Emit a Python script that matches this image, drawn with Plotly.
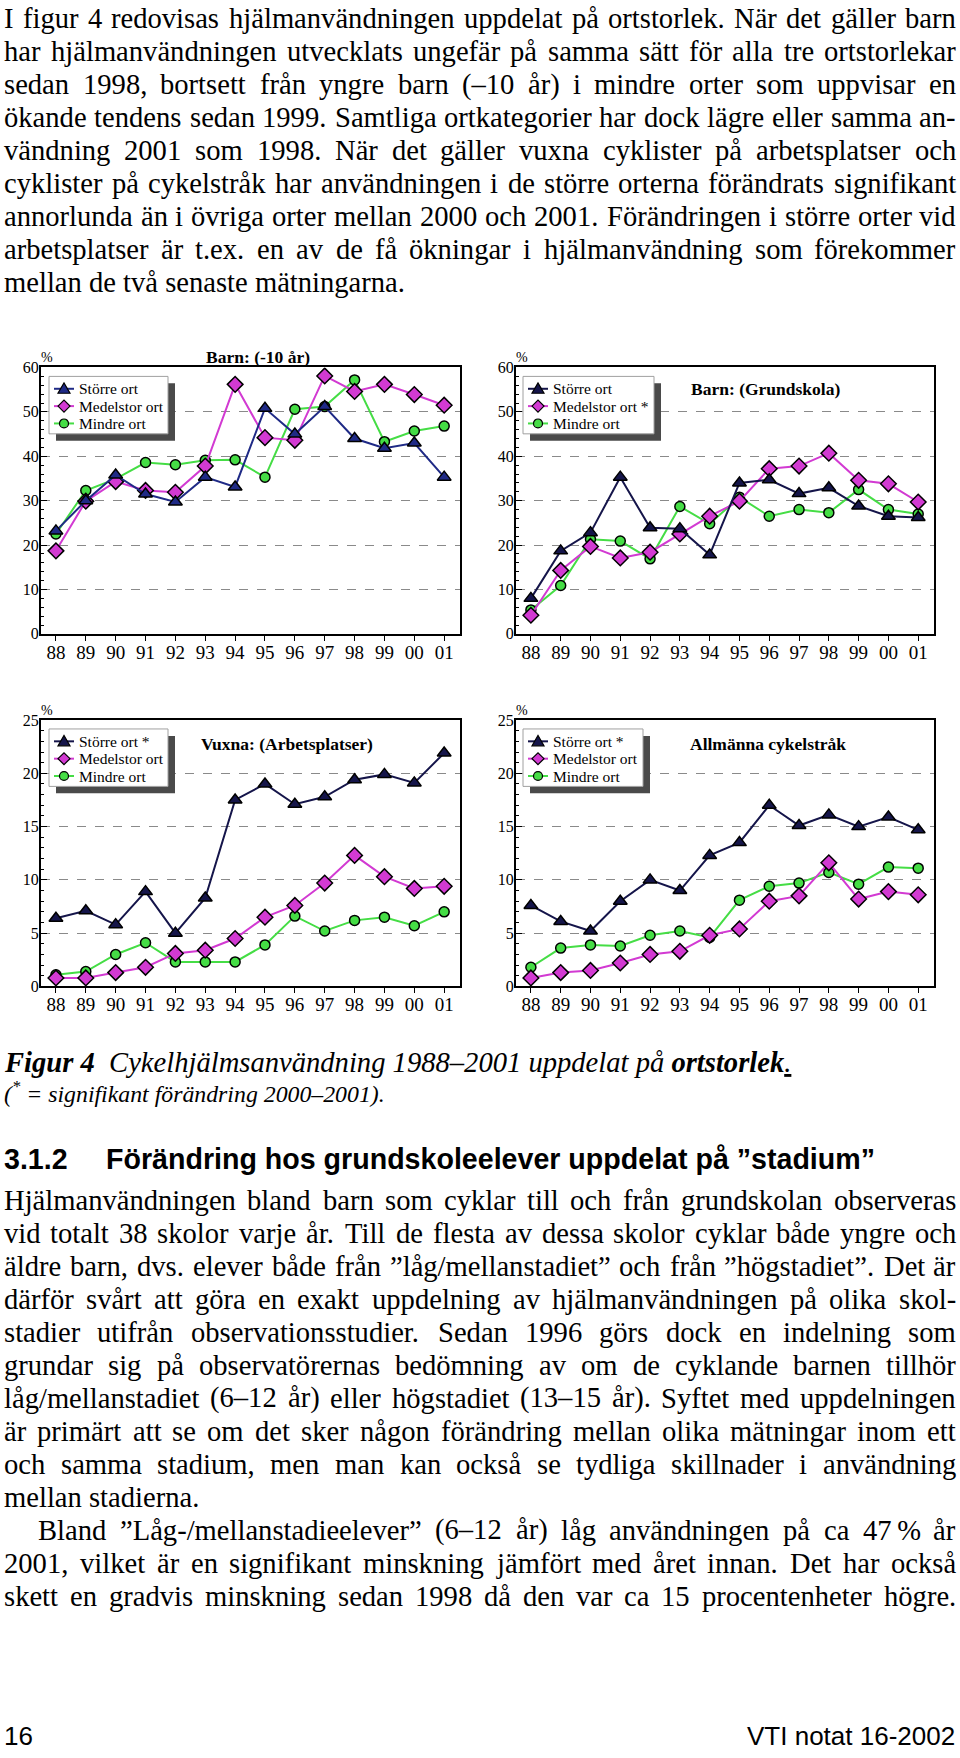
import plotly.graph_objects as go

# ---------------- data ----------------
years = ["88", "89", "90", "91", "92", "93", "94", "95", "96", "97", "98", "99", "00", "01"]

barn10_storre = [23.2, 30.0, 35.8, 31.5, 29.7, 35.3, 33.1, 50.8, 45.0, 51.2, 44.0, 41.8, 43.0, 35.3]
barn10_medel = [18.7, 29.9, 34.3, 32.3, 31.9, 37.8, 56.2, 44.2, 43.6, 58.1, 54.6, 56.2, 53.9, 51.5]
barn10_mindre = [22.5, 32.3, 34.9, 38.6, 38.1, 39.1, 39.2, 35.3, 50.6, 51.2, 57.2, 43.3, 45.7, 46.8]

grund_storre = [8.0, 18.7, 22.8, 35.3, 23.9, 23.7, 17.8, 34.0, 34.7, 31.6, 32.9, 28.8, 26.5, 26.2]
grund_medel = [4.2, 14.3, 19.7, 17.1, 18.4, 22.5, 26.5, 29.9, 37.2, 37.8, 40.7, 34.6, 33.8, 29.7]
grund_mindre = [5.4, 10.9, 21.3, 20.9, 16.9, 28.7, 24.8, 30.8, 26.5, 28.0, 27.3, 32.5, 28.0, 27.0]

vuxna_storre = [6.4, 7.1, 5.8, 8.9, 5.0, 8.3, 17.5, 19.0, 17.1, 17.8, 19.4, 19.9, 19.1, 21.9]
vuxna_medel = [0.8, 0.8, 1.3, 1.8, 3.1, 3.4, 4.5, 6.5, 7.6, 9.7, 12.3, 10.3, 9.2, 9.4]
vuxna_mindre = [1.1, 1.4, 3.0, 4.1, 2.3, 2.3, 2.3, 3.9, 6.6, 5.2, 6.2, 6.5, 5.7, 7.0]

cykel_storre = [7.6, 6.1, 5.2, 8.0, 10.0, 9.0, 12.3, 13.5, 17.0, 15.1, 16.1, 15.0, 15.9, 14.7]
cykel_medel = [0.8, 1.3, 1.5, 2.2, 3.0, 3.3, 4.8, 5.4, 8.0, 8.5, 11.6, 8.2, 8.9, 8.6]
cykel_mindre = [1.8, 3.6, 3.9, 3.8, 4.8, 5.2, 4.6, 8.1, 9.4, 9.7, 10.7, 9.6, 11.2, 11.1]

chart_titles = ["Barn: (-10 år)", "Barn: (Grundskola)", "Vuxna: (Arbetsplatser)", "Allmänna cykelstråk"]
legend_names = [
    ["Större ort", "Medelstor ort", "Mindre ort"],
    ["Större ort", "Medelstor ort *", "Mindre ort"],
    ["Större ort *", "Medelstor ort", "Mindre ort"],
    ["Större ort *", "Medelstor ort", "Mindre ort"],
]

para1 = [
    "I figur 4 redovisas hjälmanvändningen uppdelat på ortstorlek. När det gäller barn",
    "har hjälmanvändningen utvecklats ungefär på samma sätt för alla tre ortstorlekar",
    "sedan 1998, bortsett från yngre barn (–10 år) i mindre orter som uppvisar en",
    "ökande tendens sedan 1999. Samtliga ortkategorier har dock lägre eller samma an-",
    "vändning 2001 som 1998. När det gäller vuxna cyklister på arbetsplatser och",
    "cyklister på cykelstråk har användningen i de större orterna förändrats signifikant",
    "annorlunda än i övriga orter mellan 2000 och 2001. Förändringen i större orter vid",
    "arbetsplatser är t.ex. en av de få ökningar i hjälmanvändning som förekommer",
    "mellan de två senaste mätningarna.",
]
para2 = [
    "Hjälmanvändningen bland barn som cyklar till och från grundskolan observeras",
    "vid totalt 38 skolor varje år. Till de flesta av dessa skolor cyklar både yngre och",
    "äldre barn, dvs. elever både från ”låg/mellanstadiet” och från ”högstadiet”. Det är",
    "därför svårt att göra en exakt uppdelning av hjälmanvändningen på olika skol-",
    "stadier utifrån observationsstudier. Sedan 1996 görs dock en indelning som",
    "grundar sig på observatörernas bedömning av om de cyklande barnen tillhör",
    "låg/mellanstadiet (6–12 år) eller högstadiet (13–15 år). Syftet med uppdelningen",
    "är primärt att se om det sker någon förändring mellan olika mätningar inom ett",
    "och samma stadium, men man kan också se tydliga skillnader i användning",
    "mellan stadierna.",
    "Bland ”Låg-/mellanstadieelever” (6–12 år) låg användningen på ca 47\u2009% år",
    "2001, vilket är en signifikant minskning jämfört med året innan. Det har också",
    "skett en gradvis minskning sedan 1998 då den var ca 15 procentenheter högre.",
]

# ---------------- page geometry ----------------
PW, PH = 960, 1758
SERIF = "Liberation Serif, Times New Roman, serif"
SANS = "Liberation Sans, Arial, sans-serif"


def px(x):
    return x / PW


def py(y):
    return 1 - y / PH


fig = go.Figure()

NAVY1 = "#1f2a86"
NAVY = "#15154a"
MAG = "#d23ad2"
GRN = "#45dd45"

charts = [
    dict(x0=41, x1=460, y0=363, y1=632, ymax=60, minor=2,
         data=[barn10_storre, barn10_medel, barn10_mindre], navy=NAVY1),
    dict(x0=516, x1=934, y0=363, y1=632, ymax=60, minor=2,
         data=[grund_storre, grund_medel, grund_mindre], navy=NAVY),
    dict(x0=41, x1=460, y0=719, y1=988, ymax=25, minor=1,
         data=[vuxna_storre, vuxna_medel, vuxna_mindre], navy=NAVY),
    dict(x0=516, x1=934, y0=719, y1=988, ymax=25, minor=1,
         data=[cykel_storre, cykel_medel, cykel_mindre], navy=NAVY),
]

title_pos = [(258, 352), (765, 385), (287, 743), (768, 743)]
legend_box = [(49, 372, 119), (523, 372, 131), (49, 728, 119), (523, 728, 120)]
LEG_H = 58

annotations = []
shapes = []
xidx = list(range(len(years)))


def tri(x, y, s=6):
    return f"M {px(x - s)},{py(y + s * 0.75)} L {px(x + s)},{py(y + s * 0.75)} L {px(x)},{py(y - s)} Z"


def dia(x, y, s=6):
    return f"M {px(x - s)},{py(y)} L {px(x)},{py(y - s)} L {px(x + s)},{py(y)} L {px(x)},{py(y + s)} Z"


for i, c in enumerate(charts):
    n = i + 1
    xa = "x" if n == 1 else f"x{n}"
    ya = "y" if n == 1 else f"y{n}"
    storre, medel, mindre = c["data"]
    names = legend_names[i]
    # draw order: green, magenta, navy on top
    fig.add_trace(go.Scatter(
        x=xidx, y=mindre, name=names[2], xaxis=xa, yaxis=ya, showlegend=False,
        mode="lines+markers", line=dict(color=GRN, width=2),
        marker=dict(symbol="circle", size=10, color=GRN, line=dict(color="black", width=1.5))))
    fig.add_trace(go.Scatter(
        x=xidx, y=medel, name=names[1], xaxis=xa, yaxis=ya, showlegend=False,
        mode="lines+markers", line=dict(color=MAG, width=2),
        marker=dict(symbol="diamond", size=12, color=MAG, line=dict(color="black", width=1.5))))
    fig.add_trace(go.Scatter(
        x=xidx, y=storre, name=names[0], xaxis=xa, yaxis=ya, showlegend=False,
        mode="lines+markers", line=dict(color=c["navy"], width=2),
        marker=dict(symbol="triangle-up", size=12, color=c["navy"], line=dict(color="black", width=1.5))))

    axkey = "xaxis" if n == 1 else f"xaxis{n}"
    aykey = "yaxis" if n == 1 else f"yaxis{n}"
    fig.layout[axkey] = dict(
        domain=[px(c["x0"]), px(c["x1"])], anchor=ya,
        range=[-0.5, 13.53], tickmode="array", tickvals=xidx, ticktext=years,
        ticks="outside", ticklen=5, tickcolor="black", tickwidth=1, ticklabelstandoff=-5,
        showline=True, mirror=True, linecolor="black", linewidth=2,
        showgrid=False, zeroline=False,
        tickfont=dict(family=SERIF, size=19, color="black"))
    fig.layout[aykey] = dict(
        domain=[py(c["y1"]), py(c["y0"])], anchor=xa,
        range=[0, c["ymax"]], dtick=10 if c["ymax"] == 60 else 5,
        ticks="inside", ticklen=6, tickcolor="black", ticklabelstandoff=-3,
        minor=dict(dtick=c["minor"], ticks="inside", ticklen=3, tickcolor="black", showgrid=False),
        showgrid=True, griddash="dash", gridcolor="#8a8a8a", gridwidth=1,
        showline=True, mirror=True, linecolor="black", linewidth=2, zeroline=False,
        tickfont=dict(family=SERIF, size=16, color="black"))

    # hand-drawn legend box with drop shadow
    lx, ly, lw = legend_box[i]
    shapes.append(dict(type="rect", xref="paper", yref="paper",
                       x0=px(lx + 7), x1=px(lx + lw + 7), y0=py(ly + LEG_H + 7), y1=py(ly + 7),
                       fillcolor="#4a4a4a", line=dict(width=0), layer="above"))
    shapes.append(dict(type="rect", xref="paper", yref="paper",
                       x0=px(lx), x1=px(lx + lw), y0=py(ly + LEG_H), y1=py(ly),
                       fillcolor="white", line=dict(color="#a0a0a0", width=1), layer="above"))
    entry_cols = [c["navy"], MAG, GRN]
    for k in range(3):
        ey = ly + 12.5 + 17.5 * k
        shapes.append(dict(type="line", xref="paper", yref="paper",
                           x0=px(lx + 5), x1=px(lx + 25), y0=py(ey), y1=py(ey),
                           line=dict(color=entry_cols[k], width=2), layer="above"))
        if k == 0:
            shapes.append(dict(type="path", xref="paper", yref="paper", path=tri(lx + 15, ey),
                               fillcolor=c["navy"], line=dict(color="black", width=1.2), layer="above"))
        elif k == 1:
            shapes.append(dict(type="path", xref="paper", yref="paper", path=dia(lx + 15, ey),
                               fillcolor=MAG, line=dict(color="black", width=1.2), layer="above"))
        else:
            shapes.append(dict(type="circle", xref="paper", yref="paper",
                               x0=px(lx + 10.5), x1=px(lx + 19.5), y0=py(ey + 4.5), y1=py(ey - 4.5),
                               fillcolor=GRN, line=dict(color="black", width=1.2), layer="above"))
        annotations.append(dict(text=names[k], x=px(lx + 30), y=py(ey), xref="paper", yref="paper",
                                showarrow=False, xanchor="left", yanchor="middle",
                                borderpad=0, borderwidth=0,
                                font=dict(family=SERIF, size=15.5, color="black")))

    tx, ty = title_pos[i]
    annotations.append(dict(text=f"<b>{chart_titles[i]}</b>", x=px(tx), y=py(ty), xref="paper", yref="paper",
                            showarrow=False, xanchor="center", yanchor="middle",
                            font=dict(family=SERIF, size=17.5, color="black")))
    annotations.append(dict(text="%", x=px(c["x0"] + 6), y=py(c["y0"] - 10), xref="paper", yref="paper",
                            showarrow=False, xanchor="center", yanchor="middle",
                            font=dict(family=SERIF, size=14, color="black")))

# ---------------- body text with justification ----------------
TW = {' ': 250, '!': 333, '"': 408, '%': 833, '(': 333, ')': 333, '*': 500, ',': 250, '-': 333,
      '.': 250, '/': 278, ':': 278, ';': 278, '=': 564, '–': 500, '”': 444, '\u2009': 167}
for d in "0123456789":
    TW[d] = 500
TW.update(dict(A=722, B=667, C=667, D=722, E=611, F=556, G=722, H=722, I=333, J=389, K=722, L=611,
               M=889, N=722, O=722, P=556, Q=722, R=667, S=556, T=611, U=722, V=722, W=944, X=722,
               Y=722, Z=611))
TW.update(dict(a=444, b=500, c=444, d=500, e=444, f=333, g=500, h=500, i=278, j=278, k=500, l=278,
               m=778, n=500, o=500, p=500, q=500, r=333, s=389, t=278, u=500, v=500, w=722, x=500,
               y=500, z=444))
TW.update({'å': 444, 'ä': 444, 'ö': 500, 'é': 444, 'Å': 722, 'Ä': 722, 'Ö': 722})

FS = 28.6
X0, X1 = 4, 956


def wwidth(w):
    return sum(TW.get(ch, 500) for ch in w) * FS / 1000


def add_line(line, baseline, justify=True, x0=X0):
    words = line.split(" ")
    yc = py(baseline - 0.3375 * FS)
    if not justify:
        annotations.append(dict(text=line, x=px(x0), y=yc, xref="paper", yref="paper", showarrow=False,
                                xanchor="left", yanchor="middle", borderpad=0, borderwidth=0,
                                font=dict(family=SERIF, size=FS, color="black")))
        return
    widths = [wwidth(w) for w in words]
    gap = (X1 - x0 - sum(widths)) / (len(words) - 1)
    x = x0
    for k, (w, wd) in enumerate(zip(words, widths)):
        last = k == len(words) - 1
        annotations.append(dict(text=w, x=px(X1 if last else x), y=yc, xref="paper", yref="paper",
                                showarrow=False, xanchor="right" if last else "left", yanchor="middle",
                                borderpad=0, borderwidth=0,
                                font=dict(family=SERIF, size=FS, color="black")))
        x += wd + gap


for k, line in enumerate(para1):
    add_line(line, 20.7 + 33.25 * k, justify=(k < len(para1) - 1))

for k, line in enumerate(para2):
    add_line(line, 1213.3 + 33.33 * k, justify=(k != 9), x0=(38 if k == 10 else X0))

# caption
annotations.append(dict(
    text="<b>Figur 4</b>\u00a0\u00a0Cykelhjälmsanvändning 1988–2001 uppdelat på <b>ortstorlek</b><u>.</u>",
    x=px(X0), y=py(1074.5 - 0.3375 * FS), xref="paper", yref="paper", showarrow=False,
    xanchor="left", yanchor="middle", borderpad=0, borderwidth=0,
    font=dict(family=SERIF, size=FS, color="black", style="italic")))
annotations.append(dict(
    text="(<sup>*</sup> = signifikant förändring 2000–2001).",
    x=px(X0), y=py(1102.5 - 0.3375 * 23.8), xref="paper", yref="paper", showarrow=False,
    xanchor="left", yanchor="middle", borderpad=0, borderwidth=0,
    font=dict(family=SERIF, size=23.8, color="black", style="italic")))

# heading
HFS = 28.6
annotations.append(dict(text="<b>3.1.2</b>", x=px(X0), y=py(1171.7 - 0.3465 * HFS), xref="paper", yref="paper",
                        showarrow=False, xanchor="left", yanchor="middle", borderpad=0, borderwidth=0,
                        font=dict(family=SANS, size=HFS, color="black")))
annotations.append(dict(text="<b>Förändring hos grundskoleelever uppdelat på ”stadium”</b>",
                        x=px(106), y=py(1171.7 - 0.3465 * HFS), xref="paper", yref="paper",
                        showarrow=False, xanchor="left", yanchor="middle", borderpad=0, borderwidth=0,
                        font=dict(family=SANS, size=HFS, color="black")))

# footer
FFS = 26
annotations.append(dict(text="16", x=px(X0), y=py(1754 - 0.3465 * FFS), xref="paper", yref="paper",
                        showarrow=False, xanchor="left", yanchor="middle", borderpad=0, borderwidth=0,
                        font=dict(family=SANS, size=FFS, color="black")))
annotations.append(dict(text="VTI notat 16-2002", x=px(X1 - 1), y=py(1754 - 0.3465 * FFS), xref="paper",
                        yref="paper", showarrow=False, xanchor="right", yanchor="middle",
                        borderpad=0, borderwidth=0,
                        font=dict(family=SANS, size=FFS, color="black")))

fig.update_layout(
    width=PW, height=PH, margin=dict(l=0, r=0, t=0, b=0),
    paper_bgcolor="white", plot_bgcolor="white",
    showlegend=False, annotations=annotations, shapes=shapes,
    font=dict(family=SERIF, color="black"),
)

fig.write_html("out.html", config={"displayModeBar": False},
               post_script="document.body.style.margin='0px';document.body.style.overflow='hidden';")
